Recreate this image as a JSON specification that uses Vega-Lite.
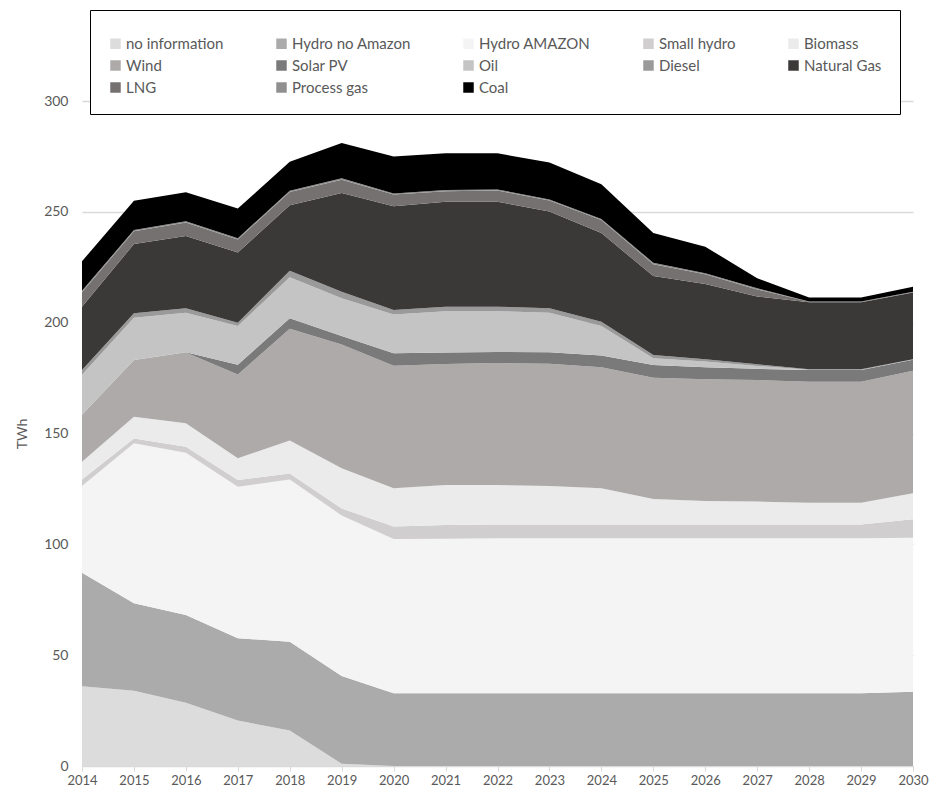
{
  "$schema": "https://vega.github.io/schema/vega-lite/v6.json",
  "width": 831,
  "height": 665,
  "autosize": {"type": "none"},
  "padding": {"left": 82, "top": 101, "right": 17, "bottom": 28},
  "background": "white",
  "config": {
    "font": "Lato",
    "view": {"stroke": null},
    "axis": {"labelFont": "Lato", "titleFont": "Lato", "labelColor": "#595959", "titleColor": "#595959"}
  },
  "data": {
    "values": [
      {"year": 2014, "no information": 36, "Hydro no Amazon": 51.2, "Hydro AMAZON": 39.1, "Small hydro": 3, "Biomass": 8, "Wind": 21, "Solar PV": 0.2, "Oil": 18, "Diesel": 2.1, "Natural Gas": 28.6, "LNG": 6.5, "Process gas": 0.7, "Coal": 13.3},
      {"year": 2015, "no information": 34, "Hydro no Amazon": 39.4, "Hydro AMAZON": 72.2, "Small hydro": 2.2, "Biomass": 9.8, "Wind": 25.6, "Solar PV": 0, "Oil": 19, "Diesel": 2, "Natural Gas": 31.3, "LNG": 5.7, "Process gas": 0.6, "Coal": 13.2},
      {"year": 2016, "no information": 28.5, "Hydro no Amazon": 39.6, "Hydro AMAZON": 73.2, "Small hydro": 2.7, "Biomass": 10.6, "Wind": 31.9, "Solar PV": 0.2, "Oil": 17.8, "Diesel": 2, "Natural Gas": 32.6, "LNG": 6.1, "Process gas": 0.6, "Coal": 13},
      {"year": 2017, "no information": 20.5, "Hydro no Amazon": 37.1, "Hydro AMAZON": 68.4, "Small hydro": 3, "Biomass": 9.8, "Wind": 37.8, "Solar PV": 4.4, "Oil": 17.5, "Diesel": 1.5, "Natural Gas": 31.6, "LNG": 5.9, "Process gas": 0.6, "Coal": 13.4},
      {"year": 2018, "no information": 16, "Hydro no Amazon": 40.1, "Hydro AMAZON": 73.2, "Small hydro": 2.7, "Biomass": 14.8, "Wind": 50.4, "Solar PV": 4.8, "Oil": 18.5, "Diesel": 2.9, "Natural Gas": 29.6, "LNG": 6, "Process gas": 0.5, "Coal": 13.1},
      {"year": 2019, "no information": 1, "Hydro no Amazon": 39.6, "Hydro AMAZON": 72.4, "Small hydro": 3.2, "Biomass": 18.1, "Wind": 55.9, "Solar PV": 3.8, "Oil": 17, "Diesel": 3, "Natural Gas": 44.5, "LNG": 6, "Process gas": 0.6, "Coal": 15.9},
      {"year": 2020, "no information": 0, "Hydro no Amazon": 32.8, "Hydro AMAZON": 69.6, "Small hydro": 5.6, "Biomass": 17.3, "Wind": 55.3, "Solar PV": 5.6, "Oil": 17.5, "Diesel": 2, "Natural Gas": 46.8, "LNG": 5.3, "Process gas": 0.5, "Coal": 16.7},
      {"year": 2021, "no information": 0, "Hydro no Amazon": 32.8, "Hydro AMAZON": 69.7, "Small hydro": 6.2, "Biomass": 18.1, "Wind": 54.6, "Solar PV": 5.1, "Oil": 18.7, "Diesel": 2, "Natural Gas": 47.4, "LNG": 4.7, "Process gas": 0.5, "Coal": 16.6},
      {"year": 2022, "no information": 0, "Hydro no Amazon": 32.8, "Hydro AMAZON": 69.9, "Small hydro": 6.3, "Biomass": 17.8, "Wind": 55, "Solar PV": 5, "Oil": 18.4, "Diesel": 2, "Natural Gas": 47.4, "LNG": 5, "Process gas": 0.5, "Coal": 16.3},
      {"year": 2023, "no information": 0, "Hydro no Amazon": 32.8, "Hydro AMAZON": 69.9, "Small hydro": 6.3, "Biomass": 17.3, "Wind": 55.2, "Solar PV": 5.2, "Oil": 17.8, "Diesel": 2, "Natural Gas": 43.6, "LNG": 5, "Process gas": 0.5, "Coal": 16.6},
      {"year": 2024, "no information": 0, "Hydro no Amazon": 32.8, "Hydro AMAZON": 69.9, "Small hydro": 6.3, "Biomass": 16.3, "Wind": 54.6, "Solar PV": 5.3, "Oil": 13.3, "Diesel": 1.9, "Natural Gas": 40, "LNG": 5.9, "Process gas": 0.5, "Coal": 15.7},
      {"year": 2025, "no information": 0, "Hydro no Amazon": 32.8, "Hydro AMAZON": 69.9, "Small hydro": 6.3, "Biomass": 11.4, "Wind": 54.8, "Solar PV": 5.7, "Oil": 3, "Diesel": 1.5, "Natural Gas": 35.6, "LNG": 5.4, "Process gas": 0.6, "Coal": 13.5},
      {"year": 2026, "no information": 0, "Hydro no Amazon": 32.8, "Hydro AMAZON": 69.9, "Small hydro": 6.3, "Biomass": 10.5, "Wind": 55, "Solar PV": 5.4, "Oil": 2.6, "Diesel": 1, "Natural Gas": 34, "LNG": 4.3, "Process gas": 0.5, "Coal": 12},
      {"year": 2027, "no information": 0, "Hydro no Amazon": 32.8, "Hydro AMAZON": 69.9, "Small hydro": 6.3, "Biomass": 10.3, "Wind": 54.8, "Solar PV": 5.1, "Oil": 1.3, "Diesel": 0.7, "Natural Gas": 30.6, "LNG": 3.2, "Process gas": 0.5, "Coal": 4.5},
      {"year": 2028, "no information": 0, "Hydro no Amazon": 32.8, "Hydro AMAZON": 69.9, "Small hydro": 6.3, "Biomass": 9.8, "Wind": 54.5, "Solar PV": 5.3, "Oil": 0.2, "Diesel": 0.2, "Natural Gas": 30.2, "LNG": 0.2, "Process gas": 0.2, "Coal": 1.8},
      {"year": 2029, "no information": 0, "Hydro no Amazon": 32.8, "Hydro AMAZON": 69.9, "Small hydro": 6.3, "Biomass": 9.8, "Wind": 54.5, "Solar PV": 5.3, "Oil": 0.2, "Diesel": 0.2, "Natural Gas": 30.2, "LNG": 0.2, "Process gas": 0.2, "Coal": 1.8},
      {"year": 2030, "no information": 0, "Hydro no Amazon": 33.5, "Hydro AMAZON": 69.5, "Small hydro": 8.3, "Biomass": 11.7, "Wind": 55.3, "Solar PV": 5, "Oil": 0.1, "Diesel": 0.1, "Natural Gas": 30.1, "LNG": 0.2, "Process gas": 0.2, "Coal": 2.2}
    ]
  },
  "transform": [
    {"fold": ["no information", "Hydro no Amazon", "Hydro AMAZON", "Small hydro", "Biomass", "Wind", "Solar PV", "Oil", "Diesel", "Natural Gas", "LNG", "Process gas", "Coal"], "as": ["source", "TWh"]},
    {"calculate": "indexof(['no information', 'Hydro no Amazon', 'Hydro AMAZON', 'Small hydro', 'Biomass', 'Wind', 'Solar PV', 'Oil', 'Diesel', 'Natural Gas', 'LNG', 'Process gas', 'Coal'], datum.source)", "as": "stackRank"}
  ],
  "mark": {"type": "area", "interpolate": "linear", "strokeWidth": 0},
  "encoding": {
    "x": {
      "field": "year", "type": "quantitative",
      "scale": {"domain": [2014, 2030], "nice": false, "zero": false},
      "axis": {
        "title": null, "values": [2014,2015,2016,2017,2018,2019,2020,2021,2022,2023,2024,2025,2026,2027,2028,2029,2030],
        "format": "d", "grid": false, "domainColor": "#d9d9d9", "tickColor": "#d9d9d9", "tickSize": 5,
        "labelFontSize": 13, "labelPadding": 3, "labelFlush": false
      }
    },
    "y": {
      "field": "TWh", "type": "quantitative", "stack": "zero",
      "scale": {"domain": [0, 300], "nice": false},
      "axis": {
        "title": "TWh", "titleFontSize": 14, "titleFontWeight": "normal", "titlePadding": 14,
        "values": [0, 50, 100, 150, 200, 250, 300], "domain": false, "ticks": false,
        "labelFontSize": 14, "labelPadding": 14, "gridColor": "#d9d9d9", "gridWidth": 1.3
      }
    },
    "color": {
      "field": "source", "type": "nominal",
      "sort": ["no information", "Hydro no Amazon", "Hydro AMAZON", "Small hydro", "Biomass", "Wind", "Solar PV", "Oil", "Diesel", "Natural Gas", "LNG", "Process gas", "Coal"],
      "scale": {
        "domain": ["no information", "Hydro no Amazon", "Hydro AMAZON", "Small hydro", "Biomass", "Wind", "Solar PV", "Oil", "Diesel", "Natural Gas", "LNG", "Process gas", "Coal"],
        "range": ["#dcdcdc", "#ababab", "#f4f4f4", "#d0cece", "#ebebeb", "#aeaaaa", "#7a7a7a", "#c4c4c4", "#9a9a9a", "#3b3838", "#767171", "#8f8f8f", "#000000"]
      },
      "legend": {
        "title": " ", "titleFontSize": 8, "titlePadding": 0,
        "orient": "none", "legendX": 8, "legendY": -91,
        "direction": "horizontal", "columns": 5, "gridAlign": "each", "columnPadding": 50, "rowPadding": 6,
        "symbolType": "square", "symbolSize": 110, "symbolStrokeWidth": 0, "symbolOffset": 0,
        "labelFontSize": 15, "labelColor": "#595959", "labelFont": "Lato", "labelOffset": 3, "labelLimit": 300,
        "strokeColor": "#000000", "fillColor": "#ffffff", "padding": 18
      }
    },
    "order": {"field": "stackRank", "type": "quantitative", "sort": "ascending"}
  }
}
